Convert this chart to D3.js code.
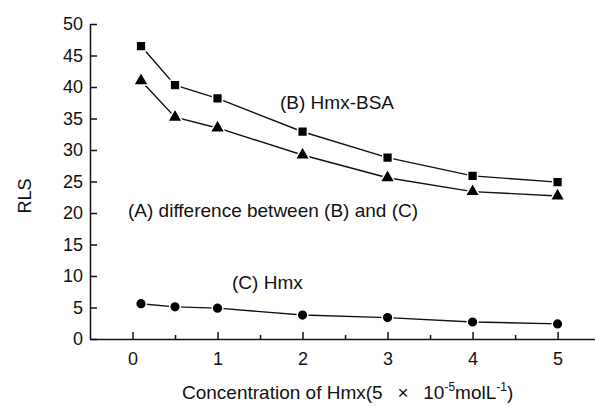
<!DOCTYPE html>
<meta charset="utf-8">
<style>
body { margin: 0; background: #fff; }
text { font-family: "Liberation Sans", Arial, sans-serif; fill: #111; }
.axis path, .axis line { stroke: #111; stroke-width: 1.5px; }
.axis text { font-size: 18px; }
</style>
<body>
<script src="https://d3js.org/d3.v7.min.js"></script>
<script>

// data
const conc = [0.1, 0.5, 1, 2, 3, 4, 5];
const hmxBsa = [46.5, 40.3, 38.2, 32.9, 28.8, 25.9, 24.9];     // (B) squares
const diffBC = [41.0, 35.2, 33.5, 29.2, 25.6, 23.4, 22.7];     // (A) triangles
const hmx = [5.6, 5.1, 4.9, 3.8, 3.4, 2.7, 2.4];               // (C) circles
const xTicks = [0, 1, 2, 3, 4, 5];
const xMinor = [0.5, 1.5, 2.5, 3.5, 4.5];
const yTicks = [0, 5, 10, 15, 20, 25, 30, 35, 40, 45, 50];

const width = 595, height = 407;

const svg = d3.select("body").append("svg")
    .attr("width", width)
    .attr("height", height);

const x = d3.scaleLinear().domain([-0.5, 5.44]).range([90, 595]);
const y = d3.scaleLinear().domain([0, 50]).range([339, 24]);

// x axis: major + minor ticks pointing inward
svg.append("g")
    .attr("class", "axis")
    .attr("transform", "translate(0," + y(0) + ")")
    .call(d3.axisBottom(x).tickValues(xMinor).tickSizeInner(-4).tickSizeOuter(0).tickFormat(""))
    .call(g => g.select(".domain").remove());

svg.append("g")
    .attr("class", "axis")
    .attr("transform", "translate(0," + y(0) + ")")
    .call(d3.axisBottom(x).tickValues(xTicks).tickSizeInner(-7).tickSizeOuter(0).tickPadding(13)
        .tickFormat(d3.format("d")));

// y axis
svg.append("g")
    .attr("class", "axis")
    .attr("transform", "translate(" + x(-0.5) + ",0)")
    .call(d3.axisLeft(y).tickValues(yTicks).tickSizeInner(-7).tickSizeOuter(0).tickPadding(7));

const line = d3.line()
    .x((d, i) => x(conc[i]))
    .y(d => y(d));

function drawSeries(values, symbolType, size) {
  svg.append("path")
      .datum(values)
      .attr("fill", "none")
      .attr("stroke", "#111")
      .attr("stroke-width", 1.4)
      .attr("d", line);

  svg.append("g").selectAll("path")
    .data(values)
    .join("path")
      .attr("transform", (d, i) => "translate(" + x(conc[i]) + "," + y(d) + ")")
      .attr("d", d3.symbol().type(symbolType).size(size))
      .attr("fill", "#000")
      .attr("stroke", "#fff")
      .attr("stroke-width", 1.5);
}

drawSeries(hmxBsa, d3.symbolSquare, 95);
drawSeries(diffBC, d3.symbolTriangle, 95);
drawSeries(hmx, d3.symbolCircle, 90);

// annotations
svg.append("text")
    .attr("x", 280).attr("y", 109)
    .style("font-size", "19px")
    .text("(B) Hmx-BSA");

svg.append("text")
    .attr("x", 128).attr("y", 217)
    .style("font-size", "19px")
    .text("(A) difference between (B) and (C)");

svg.append("text")
    .attr("x", 232).attr("y", 289)
    .style("font-size", "19px")
    .text("(C) Hmx");

// axis titles
svg.append("text")
    .attr("transform", "translate(31,196) rotate(-90)")
    .attr("text-anchor", "middle")
    .style("font-size", "18px")
    .text("RLS");

const xt = svg.append("text")
    .attr("x", 182).attr("y", 399)
    .style("font-size", "19px");
xt.append("tspan").text("Concentration of Hmx(5\u2002 \u00d7\u2002 10");
xt.append("tspan").attr("dy", -8).style("font-size", "12px").text("-5");
xt.append("tspan").attr("dy", 8).text("molL");
xt.append("tspan").attr("dy", -8).style("font-size", "12px").text("-1");
xt.append("tspan").attr("dy", 8).text(")");

</script>
</body>
